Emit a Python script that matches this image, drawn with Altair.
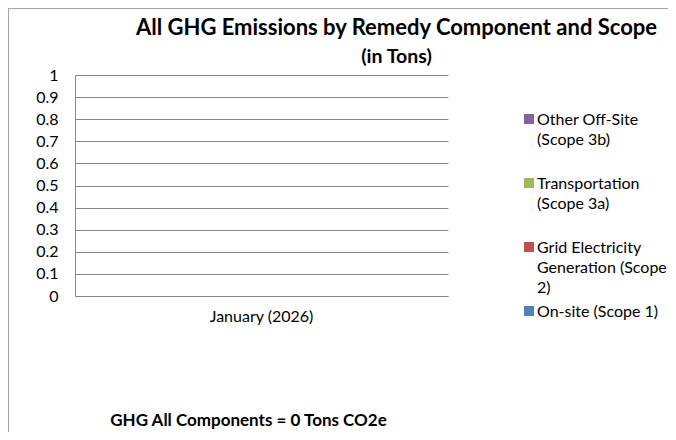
import altair as alt
import pandas as pd

# ---- data ----
months = ["January (2026)"]
series = [
    "Other Off-Site (Scope 3b)",
    "Transportation (Scope 3a)",
    "Grid Electricity Generation (Scope 2)",
    "On-site (Scope 1)",
]
legend_lines = [
    ["Other Off-Site", "(Scope 3b)", " "],
    ["Transportation", "(Scope 3a)", " "],
    ["Grid Electricity", "Generation (Scope", "2)"],
    ["On-site (Scope 1)"],
]
colors = ["#8064A2", "#9BBB59", "#C0504D", "#4F81BD"]
values = [0, 0, 0, 0]          # tons per component, January (2026)
stack_order = [4, 3, 2, 1]
y_ticks = [0, 0.1, 0.2, 0.3, 0.4, 0.5, 0.6, 0.7, 0.8, 0.9, 1]

df = pd.DataFrame({
    "month": months * len(series),
    "series": series,
    "value": values,
    "order": stack_order,
})

total = sum(values)
bottom_text = f"GHG All Components = {total:g} Tons CO2e"

label_expr = ""
for name, lines in zip(series, legend_lines):
    arr = "[" + ",".join("'" + l + "'" for l in lines) + "]"
    label_expr += f"datum.label == '{name}' ? {arr} : "
label_expr += "datum.label"

FONT = "Lato"
GRID = "#868686"

bars = alt.Chart(df).mark_bar(size=120).encode(
    x=alt.X("month:N", title=bottom_text,
            axis=alt.Axis(labelAngle=0, ticks=False, domainColor=GRID,
                          labelPadding=12, titlePadding=88, titleX=173,
                          titleFontWeight="bold", titleFontSize=17)),
    y=alt.Y("value:Q", stack="zero", title=None,
            scale=alt.Scale(domain=[0, 1]),
            axis=alt.Axis(values=y_ticks, format=".1~f", ticks=False,
                          labelPadding=17, domainColor=GRID, gridColor=GRID)),
    color=alt.Color("series:N", title=None,
                    scale=alt.Scale(domain=series, range=colors),
                    legend=alt.Legend(orient="none", legendX=446, legendY=29,
                                      symbolType="M-1,0.4H1V2.4H-1Z",
                                      symbolSize=100, symbolStrokeWidth=0,
                                      labelBaseline="top",
                                      labelOffset=0, labelLimit=200,
                                      rowPadding=0, padding=0,
                                      labelExpr=label_expr)),
    order=alt.Order("order:Q"),
)

border = alt.Chart(df).mark_rect(filled=False, stroke="#a5a5a5", strokeWidth=1).encode(
    x=alt.value(-66.5), x2=alt.value(700), y=alt.value(-66.5), y2=alt.value(600)
)

chart = alt.layer(bars, border).properties(
    width=373,
    height=221,
    autosize=alt.AutoSizeParams(type="none"),
    padding={"left": 67, "top": 67, "right": 220, "bottom": 136},
    title=alt.TitleParams(
        text="All GHG Emissions by Remedy Component and Scope",
        subtitle="(in Tons)",
        anchor="middle", frame="group", dx=135, offset=-59,
        fontSize=22, fontWeight="bold", font=FONT, color="black",
        subtitleFontSize=19.5, subtitleFontWeight="bold", subtitleFont=FONT,
        subtitleColor="black", subtitlePadding=8,
    ),
).configure(
    font=FONT, style={"guide-label": {"lineHeight": 20}}
).configure_view(stroke=None).configure_axis(
    labelFont=FONT, labelFontSize=16, labelColor="black",
    titleFont=FONT, titleColor="black", grid=True,
).configure_axisX(grid=False).configure_legend(
    labelFont=FONT, labelFontSize=16, labelColor="black"
)

chart.save("out.html", embed_options={"renderer": "svg", "actions": False})
